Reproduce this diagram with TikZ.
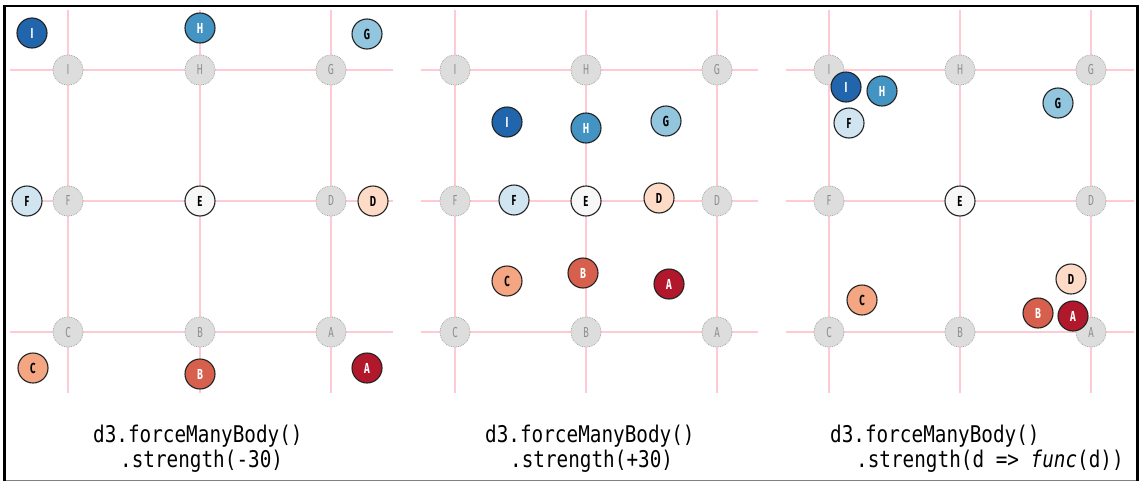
\documentclass[tikz,border=0pt]{standalone}
\usepackage{fontspec}
\newfontfamily\nodefont[FakeStretch=0.66]{Fira Sans}
\newfontfamily\codefont[FakeStretch=0.84]{DejaVu Sans Mono}
\definecolor{gridpink}{HTML}{FFCAD2}
\definecolor{ghostfill}{HTML}{DDDDDD}
\definecolor{ghostdraw}{HTML}{A8A8A8}
\definecolor{ghostlbl}{HTML}{8E8E8E}
\definecolor{balldraw}{HTML}{222222}
\definecolor{cA}{HTML}{B2182B}
\definecolor{cB}{HTML}{D6604D}
\definecolor{cC}{HTML}{F4A582}
\definecolor{cD}{HTML}{FDDBC7}
\definecolor{cE}{HTML}{F7F7F7}
\definecolor{cF}{HTML}{D1E5F0}
\definecolor{cG}{HTML}{92C5DE}
\definecolor{cH}{HTML}{4393C3}
\definecolor{cI}{HTML}{2166AC}
\tikzset{
  ghost/.style={circle, minimum size=30pt, inner sep=0pt, fill=ghostfill, draw=ghostdraw,
    densely dotted, line width=0.8pt, text=ghostlbl, font=\nodefont\fontsize{14.5}{14.5}\selectfont},
  ball/.style={circle, minimum size=30pt, inner sep=0pt, draw=balldraw, line width=1.1pt,
    font=\nodefont\bfseries\fontsize{14.5}{14.5}\selectfont},
  darkball/.style={ball, text=white},
  lightball/.style={ball, text=black},
  gridline/.style={draw=gridpink, line width=1.2pt},
  code/.style={anchor=base west, inner sep=0pt, font=\codefont\fontsize{23}{23}\selectfont},
  frameline/.style={draw=black, line width=2.6pt}
}
\newcommand{\gridpanel}[6]{%
  % #1 prefix, #2 c1, #3 c2, #4 c3, #5 left, #6 right
  \foreach \yy in {70,201,332} {\draw[gridline] (#5,\yy) -- (#6,\yy);}
  \foreach \xx in {#2,#3,#4} {\draw[gridline] (\xx,10) -- (\xx,393);}
  \node[ghost] (#1gI) at (#2,70) {I};
  \node[ghost] (#1gH) at (#3,70) {H};
  \node[ghost] (#1gG) at (#4,70) {G};
  \node[ghost] (#1gF) at (#2,201) {F};
  \node[ghost] (#1gD) at (#4,201) {D};
  \node[ghost] (#1gC) at (#2,332) {C};
  \node[ghost] (#1gB) at (#3,332) {B};
  \node[ghost] (#1gA) at (#4,332) {A};
}
\begin{document}
\begin{tikzpicture}[x=1pt,y=-1pt]
\useasboundingbox (0,0) rectangle (1141,482);
\fill[white] (0,0) rectangle (1141,482);

% ---------- panel 1 ----------
\gridpanel{p1}{68}{200}{331}{10}{393}
\node[darkball, fill=cI]  (p1I) at (32,33) {I};
\node[darkball, fill=cH]  (p1H) at (200,28) {H};
\node[lightball, fill=cG] (p1G) at (367,34) {G};
\node[lightball, fill=cF] (p1F) at (27,201) {F};
\node[lightball, fill=cE] (p1E) at (200,201) {E};
\node[lightball, fill=cD] (p1D) at (373,201) {D};
\node[lightball, fill=cC] (p1C) at (33,368) {C};
\node[darkball, fill=cB]  (p1B) at (200,374) {B};
\node[darkball, fill=cA]  (p1A) at (367,368) {A};
\node[code] (p1l1) at (93,442) {d3.forceManyBody()};
\node[code] (p1l2) at (120,467) {.strength(-30)};

% ---------- panel 2 ----------
\gridpanel{p2}{455}{586}{717}{421}{758}
\node[darkball, fill=cI]  (p2I) at (507,122) {I};
\node[darkball, fill=cH]  (p2H) at (586,128) {H};
\node[lightball, fill=cG] (p2G) at (666,121) {G};
\node[lightball, fill=cF] (p2F) at (514,200) {F};
\node[lightball, fill=cE] (p2E) at (586,201) {E};
\node[lightball, fill=cD] (p2D) at (659,198) {D};
\node[lightball, fill=cC] (p2C) at (507,281) {C};
\node[darkball, fill=cB]  (p2B) at (583,273) {B};
\node[darkball, fill=cA]  (p2A) at (669,284) {A};
\node[code] (p2l1) at (485,442) {d3.forceManyBody()};
\node[code] (p2l2) at (510,467) {.strength(+30)};

% ---------- panel 3 ----------
\gridpanel{p3}{829}{960}{1091}{786}{1134}
\node[darkball, fill=cI]  (p3I) at (846,87) {I};
\node[darkball, fill=cH]  (p3H) at (882,91) {H};
\node[lightball, fill=cF] (p3F) at (849,123) {F};
\node[lightball, fill=cG] (p3G) at (1058,103) {G};
\node[lightball, fill=cE] (p3E) at (960,201) {E};
\node[lightball, fill=cD] (p3D) at (1071,279) {D};
\node[lightball, fill=cC] (p3C) at (862,300) {C};
\node[darkball, fill=cB]  (p3B) at (1038,313) {B};
\node[darkball, fill=cA]  (p3A) at (1073,316) {A};
\node[code] (p3l1) at (830,442) {d3.forceManyBody()};
\node[code] (p3l2) at (856,467) {.strength(d => {\itshape func}(d))};

% ---------- frame ----------
\draw[draw=gray, line width=1pt] (4.6,480) -- (1137.5,480);
\draw[frameline] (4.6,481) -- (4.6,6) -- (1137.5,6) -- (1137.5,481);
\end{tikzpicture}
\end{document}
